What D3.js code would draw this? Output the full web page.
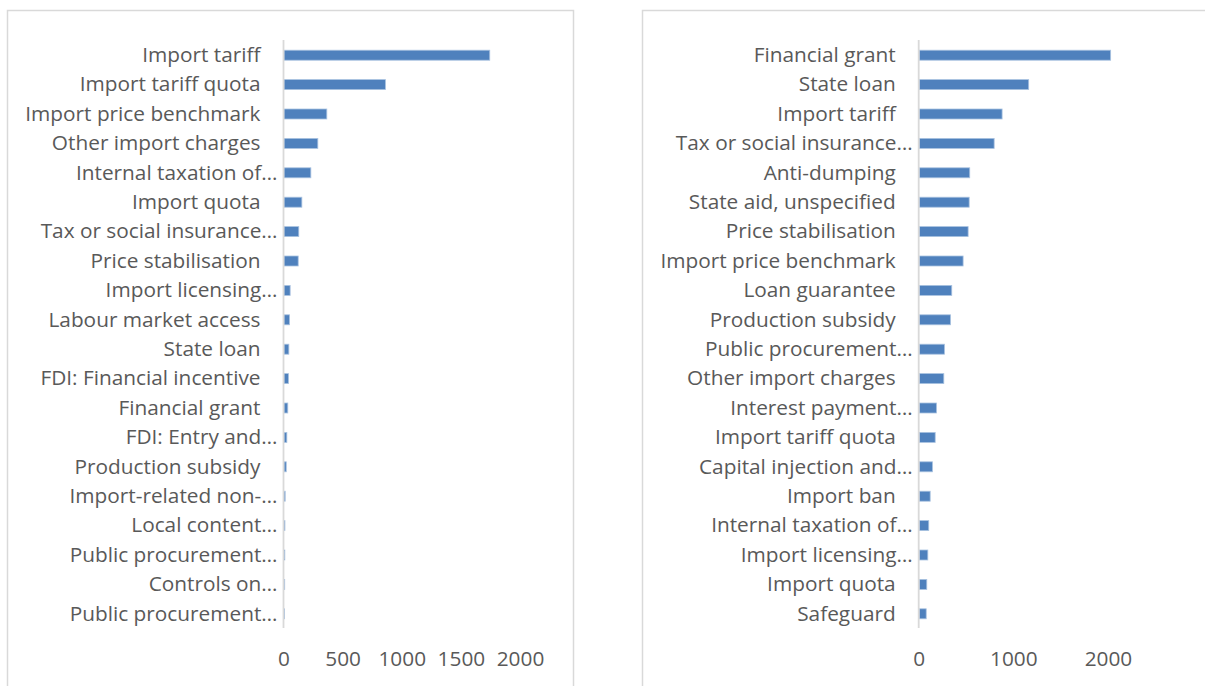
<!DOCTYPE html>
<html><head><meta charset="utf-8">
<script src="https://cdn.jsdelivr.net/npm/d3@7"></script>
<style>body{margin:0;background:#fff}svg{display:block}text{font-family:"Open Sans",sans-serif;fill:#595959}</style>
</head><body>
<svg id="c" width="1205" height="686"></svg>
<script>
const leftCategories = ["Import tariff","Import tariff quota","Import price benchmark","Other import charges","Internal taxation of…","Import quota","Tax or social insurance…","Price stabilisation","Import licensing…","Labour market access","State loan","FDI: Financial incentive","Financial grant","FDI: Entry and…","Production subsidy","Import-related non-…","Local content…","Public procurement…","Controls on…","Public procurement…"];
const leftValues = [1740,858,362,286,227,151,125,120,52,47,41,38,32,24,19,10,8,7,6,5];
const leftTicks = [0,500,1000,1500,2000];

const rightCategories = ["Financial grant","State loan","Import tariff","Tax or social insurance…","Anti-dumping","State aid, unspecified","Price stabilisation","Import price benchmark","Loan guarantee","Production subsidy","Public procurement…","Other import charges","Interest payment…","Import tariff quota","Capital injection and…","Import ban","Internal taxation of…","Import licensing…","Import quota","Safeguard"];
const rightValues = [2023,1157,876,792,534,528,517,464,344,331,267,260,183,169,140,116,101,91,80,74];
const rightTicks = [0,1000,2000];

const FS = 20.8;
const svg = d3.select("#c");
// panel borders
svg.append("rect").attr("x",7.5).attr("y",10.5).attr("width",566).attr("height",700)
  .attr("fill","none").attr("stroke","#d9d9d9").attr("stroke-width",1.5);
svg.append("rect").attr("x",642.5).attr("y",10.5).attr("width",700).attr("height",700)
  .attr("fill","none").attr("stroke","#d9d9d9").attr("stroke-width",1.5);

function panel(cats, vals, ticks, x0, x1, dmax){
  const x = d3.scaleLinear().domain([0,dmax]).range([x0,x1]);
  const idx = cats.map((c,i)=>i);
  const y = d3.scaleBand().domain(idx).range([40,628]).paddingInner(0.66).paddingOuter(0.33);
  const g = svg.append("g");
  g.selectAll("rect.bar").data(vals).join("rect").attr("class","bar")
    .attr("x",x(0)+0.5).attr("y",(d,i)=>y(i)+0.5)
    .attr("width",d=>Math.max(0,x(d)-x(0))).attr("height",y.bandwidth())
    .attr("fill","#4f81bd").attr("stroke","#a9c2e0").attr("stroke-width",0.8);
  g.append("line").attr("x1",x(0)).attr("x2",x(0)).attr("y1",40).attr("y2",628)
    .attr("stroke","#d9d9d9").attr("stroke-width",1.8);
  g.selectAll("text.lab").data(cats).join("text").attr("class","lab")
    .attr("x",d=>x(0) - (d.endsWith("…") ? 6 : 23))
    .attr("y",(d,i)=>y(i)+y.bandwidth()/2).attr("dy","0.35em")
    .attr("text-anchor","end").attr("font-size",FS).text(d=>d);
  const ax = d3.axisBottom(x).tickValues(ticks).tickSize(0).tickPadding(0).tickFormat(d3.format("d"));
  const a = g.append("g").attr("transform","translate(0,651)").call(ax);
  a.select(".domain").remove();
  a.selectAll("text").attr("font-size",FS).attr("fill","#595959").attr("dy","0.71em")
    .style("font-family","'Open Sans',sans-serif");
}
panel(leftCategories,leftValues,leftTicks,283.5,520,2000);
panel(rightCategories,rightValues,rightTicks,918.7,1202.6,3000);
</script>
</body></html>
